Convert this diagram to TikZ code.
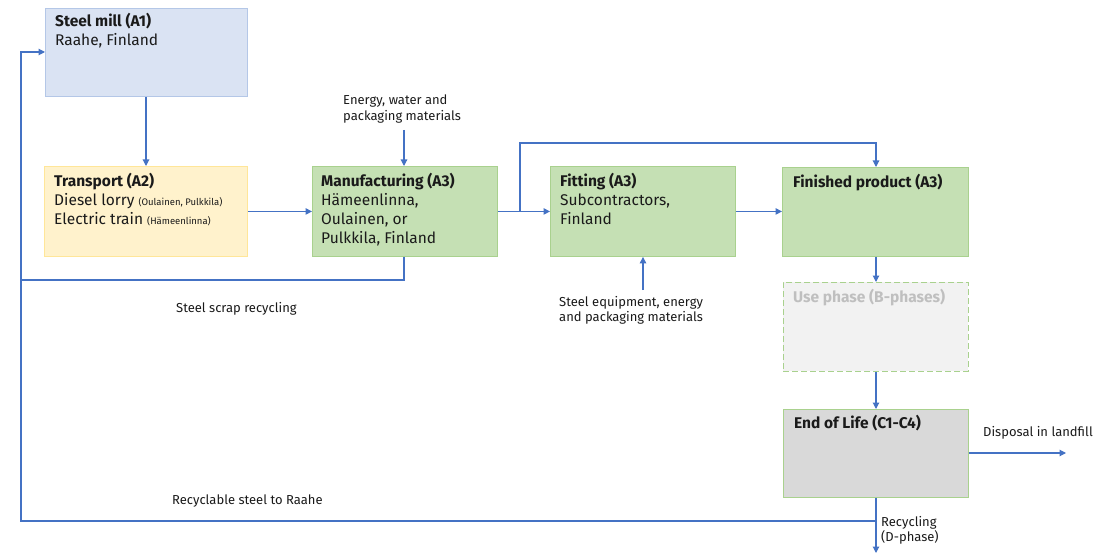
\documentclass[tikz,border=0pt]{standalone}
\usepackage{fontspec}
\setmainfont{Fira Sans}
\usetikzlibrary{arrows.meta,positioning}
\definecolor{arrowblue}{HTML}{4472C4}
\definecolor{millfill}{HTML}{DAE3F3}
\definecolor{millline}{HTML}{B4C7E7}
\definecolor{transfill}{HTML}{FFF2CC}
\definecolor{transline}{HTML}{FFE699}
\definecolor{greenfill}{HTML}{C5E0B4}
\definecolor{greenline}{HTML}{A9D18E}
\definecolor{usefill}{HTML}{F2F2F2}
\definecolor{usetext}{HTML}{BFBFBF}
\definecolor{eolfill}{HTML}{D9D9D9}
\definecolor{txt}{HTML}{1A1A1A}
\tikzset{
  box/.style={draw, line width=0.9pt, rectangle, inner sep=0pt, anchor=north west},
  boxtext/.style={anchor=north west, align=left, inner sep=0pt, font=\fontsize{15.5}{19}\selectfont, text=txt},
  lbl/.style={inner sep=0pt, align=left, font=\fontsize{13}{15.5}\selectfont, text=txt},
  conn/.style={draw=arrowblue, line width=1.1pt},
  arr/.style={conn, -{Triangle[length=6.5pt,width=6.5pt]}},
}
\begin{document}
\begin{tikzpicture}[x=1pt,y=-1pt]
\useasboundingbox (0,0) rectangle (1103,559);
% boxes
\node[box, draw=millline, fill=millfill, minimum width=202, minimum height=88] (mill) at (45,8) {};
\node[box, draw=transline, fill=transfill, minimum width=203, minimum height=90] (trans) at (44,166) {};
\node[box, draw=greenline, fill=greenfill, minimum width=185, minimum height=90] (manu) at (312,166) {};
\node[box, draw=greenline, fill=greenfill, minimum width=185, minimum height=90] (fit) at (550,166) {};
\node[box, draw=greenline, fill=greenfill, minimum width=186, minimum height=89] (fin) at (782,167) {};
\node[box, draw=greenline, fill=usefill, dashed, dash pattern=on 6pt off 3pt, minimum width=185, minimum height=89] (use) at (783,282) {};
\node[box, draw=greenline, fill=eolfill, minimum width=185, minimum height=88] (eol) at (783,409) {};
% box texts
\node[boxtext] (millT) at (55,13) {\textbf{Steel mill (A1)}\\Raahe, Finland};
\node[boxtext] (transT) at (54,173) {\textbf{Transport (A2)}\\Diesel lorry {\fontsize{9.5}{10}\selectfont(Oulainen, Pulkkila)}\\Electric train {\fontsize{9.5}{10}\selectfont(Hämeenlinna)}};
\node[boxtext] (manuT) at (321,173) {\textbf{Manufacturing (A3)}\\Hämeenlinna,\\Oulainen, or\\Pulkkila, Finland};
\node[boxtext] (fitT) at (560,173) {\textbf{Fitting (A3)}\\Subcontractors,\\Finland};
\node[boxtext] (finT) at (793,174) {\textbf{Finished product (A3)}};
\node[boxtext, text=usetext] (useT) at (793,289) {\textbf{Use phase (B-phases)}};
\node[boxtext] (eolT) at (794,415) {\textbf{End of Life (C1-C4)}};
% labels
\node[lbl, anchor=north west] (energy) at (343,95) {Energy, water and\\packaging materials};
\node[lbl, anchor=north west] (equip) at (559,296) {Steel equipment, energy\\and packaging materials};
\node[lbl, anchor=north west] (scrap) at (176,302) {Steel scrap recycling};
\node[lbl, anchor=north west] (torah) at (172,495) {Recyclable steel to Raahe};
\node[lbl, anchor=north west] (landfill) at (983,426) {Disposal in landfill};
\node[lbl, anchor=north west] (recyc) at (881,516) {Recycling\\(D-phase)};
% coordinates
\coordinate (eTop) at (404,130);
\coordinate (qBot) at (643,290);
\coordinate (split) at (520,211);
\coordinate (landEnd) at (1066,453);
\coordinate (recEnd) at (876,553);
\coordinate (recJoin) at (876,521);
\coordinate (leftX) at (21,0);
% connectors
\draw[arr] (mill.south -| 146,0) -- (trans.north -| 146,0);
\draw[arr] (trans.east) -- (manu.west);
\draw[arr] (eTop) -- (manu.north -| eTop);
\draw[arr] (manu.east) -- (fit.west);
\draw[arr] (split) -- (520,143) -- (876,143) -- (fin.north -| 876,0);
\draw[arr] (fit.east) -- (fin.west |- fit.east);
\draw[arr] (qBot) -- (fit.south -| qBot);
\draw[arr] (fin.south -| 876,0) -- (use.north -| 876,0);
\draw[arr] (use.south -| 876,0) -- (eol.north -| 876,0);
\draw[arr] (eol.east |- landEnd) -- (landEnd);
\draw[arr] (eol.south -| recEnd) -- (recEnd);
\draw[arr] (recJoin) -- (recJoin -| leftX) -- (21,52) -- (mill.west |- 0,52);
\draw[conn] (manu.south -| eTop) -- (404,280) -- (21,280);
\end{tikzpicture}
\end{document}
